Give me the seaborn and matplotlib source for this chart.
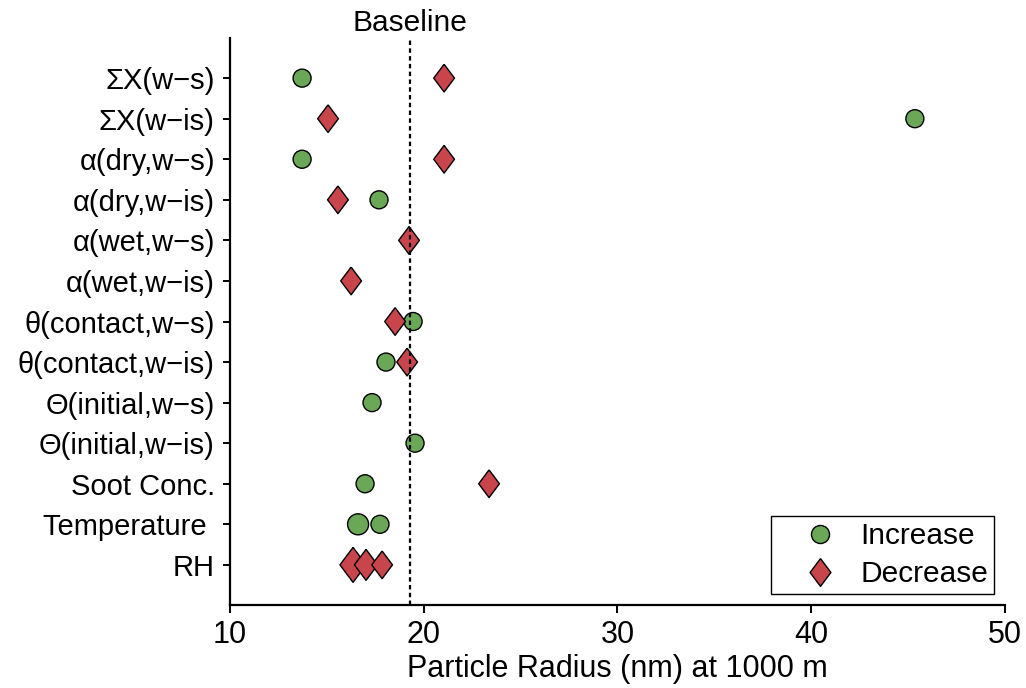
import pandas as pd
import matplotlib.pyplot as plt
import seaborn as sns
from matplotlib.lines import Line2D

# Parametros (orden de arriba a abajo)
params = ['\u03a3X(w\u2212s)', '\u03a3X(w\u2212is)', '\u03b1(dry,w\u2212s)', '\u03b1(dry,w\u2212is)',
          '\u03b1(wet,w\u2212s)', '\u03b1(wet,w\u2212is)', '\u03b8(contact,w\u2212s)',
          '\u03b8(contact,w\u2212is)', '\u0398(initial,w\u2212s)', '\u0398(initial,w\u2212is)',
          'Soot Conc.', 'Temperature ', 'RH']

# Radio con el parametro aumentado (circulos verdes)
inc_param = [params[0], params[1], params[2], params[3], params[6], params[7],
             params[8], params[9], params[10], params[11], params[11]]
inc_radius = [13.72, 45.35, 13.72, 17.69, 19.45, 18.05, 17.33, 19.55, 16.97, 16.61, 17.74]
inc_size = [1, 1, 1, 1, 1, 1, 1, 1, 1, 2, 1]

# Radio con el parametro disminuido (rombos rojos)
dec_param = [params[0], params[1], params[2], params[3], params[4], params[5],
             params[6], params[7], params[10], params[12], params[12], params[12]]
dec_radius = [21.05, 15.06, 21.05, 15.57, 19.24, 16.25, 18.52, 19.14, 23.37, 16.35, 17.02, 17.85]
dec_size = [1, 1, 1, 1, 1, 1, 1, 1, 1, 3, 2, 1]

baseline = 19.3

green = '#6aa757'
red = '#c9454c'
diamond = [(0, 1), (0.75, 0), (0, -1), (-0.75, 0), (0, 1)]

inc = pd.DataFrame({'param': inc_param, 'radius': inc_radius, 'size': inc_size})
dec = pd.DataFrame({'param': dec_param, 'radius': dec_radius, 'size': dec_size})

sns.set_style('ticks')
plt.rcParams['font.family'] = ['Liberation Sans', 'DejaVu Sans']
plt.rcParams['text.color'] = 'black'
plt.rcParams['axes.labelcolor'] = 'black'
plt.rcParams['xtick.color'] = 'black'
plt.rcParams['ytick.color'] = 'black'

fig = plt.figure(figsize=(10.26, 6.88), dpi=100)
ax = fig.add_axes([0.2242, 0.1206, 0.7553, 0.8242])

# fijar el orden de las categorias
ax.scatter([baseline] * len(params), params, alpha=0)

sns.scatterplot(data=inc, x='radius', y='param', size='size', sizes={1: 168, 2: 229},
                marker='o', color=green, edgecolor='black', linewidth=1, legend=False,
                ax=ax, zorder=3)
sns.scatterplot(data=dec, x='radius', y='param', size='size', sizes={1: 398, 2: 498, 3: 635},
                marker=diamond, color=red, edgecolor='black', linewidth=1, legend=False,
                ax=ax, zorder=3)

ax.axvline(baseline, color='black', linestyle=(0, (2, 1.5)), linewidth=1.6, zorder=5)
ax.text(baseline, 1.026, 'Baseline', transform=ax.get_xaxis_transform(),
        ha='center', va='center', fontsize=21.5)

ax.set_xlim(10, 50)
ax.set_ylim(12.99, -0.99)
ax.set_xticks([10, 20, 30, 40, 50])
ax.set_xlabel('Particle Radius (nm) at 1000 m', fontsize=22, labelpad=3)
ax.set_ylabel('')
ax.tick_params(axis='x', labelsize=22, length=6, width=1.4, direction='out', pad=5)
ax.tick_params(axis='y', labelsize=21, length=5, width=1.4, direction='out', pad=6)
sns.despine(ax=ax)
for s in ['left', 'bottom']:
    ax.spines[s].set_linewidth(1.6)
    ax.spines[s].set_color('black')

handles = [Line2D([], [], marker='o', linestyle='', markerfacecolor=green,
                  markeredgecolor='black', markersize=13),
           Line2D([], [], marker=diamond, linestyle='', markerfacecolor=red,
                  markeredgecolor='black', markersize=20)]
leg = ax.legend(handles, ['Increase', 'Decrease'], loc='lower right', fontsize=21.5,
                frameon=True, fancybox=False, framealpha=1, edgecolor='black',
                labelspacing=0.33, borderaxespad=0.36, handletextpad=-0.1, borderpad=0.2,
                handlelength=2.9)
leg.get_frame().set_linewidth(1.0)

fig.savefig('out.png', dpi=100)
